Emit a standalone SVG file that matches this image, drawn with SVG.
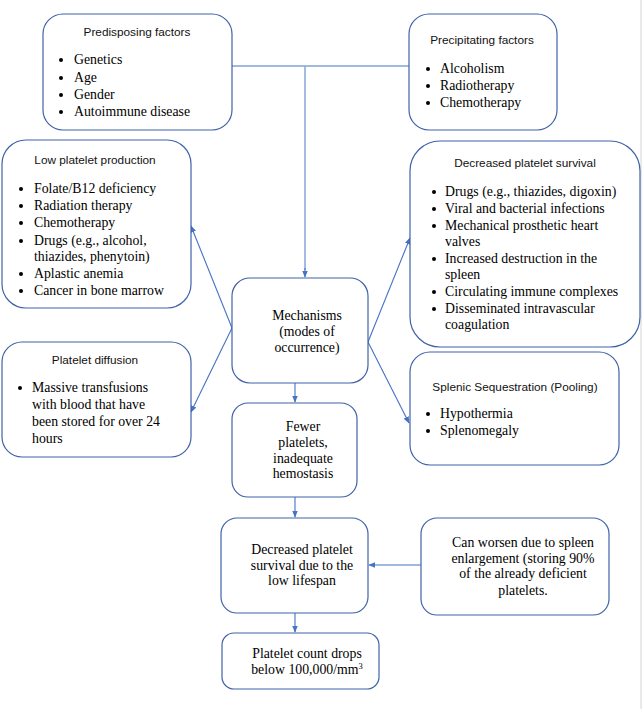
<svg xmlns="http://www.w3.org/2000/svg" width="644" height="709" viewBox="0 0 644 709">
<defs>
<marker id="ah" viewBox="0 0 10 10" refX="9" refY="5" markerWidth="7" markerHeight="7" orient="auto" markerUnits="userSpaceOnUse">
<path d="M0,1 L10,5 L0,9 z" fill="#4472C4"/>
</marker>
<style>
.box{fill:#fff;stroke:#3F62A8;stroke-width:1.2}
.t{font-family:"Liberation Sans",Arial,sans-serif;font-size:11.8px;fill:#111}
.b{font-family:"Liberation Serif","Times New Roman",serif;font-size:13.8px;fill:#000}
.c{text-anchor:middle}
.d{fill:#000}
.con{stroke:#4472C4;stroke-width:1.1;fill:none}
.con2{stroke:#8EAADB;stroke-width:1.6;fill:none}
</style>
</defs>
<rect width="644" height="709" fill="#fff"/>
<line x1="641" y1="0" x2="641" y2="709" stroke="#d4d4d4" stroke-width="1"/>

<g id="connectors">
<line class="con" x1="232" y1="66" x2="410" y2="66"/>
<line class="con2" x1="305" y1="66" x2="305" y2="270"/>
<line class="con" x1="305" y1="268" x2="305" y2="277" marker-end="url(#ah)"/>
<line class="con" x1="232" y1="328" x2="191" y2="226" marker-end="url(#ah)"/>
<line class="con" x1="232" y1="328" x2="191" y2="412" marker-end="url(#ah)"/>
<line class="con" x1="368" y1="342" x2="410" y2="238" marker-end="url(#ah)"/>
<line class="con" x1="368" y1="342" x2="409" y2="423" marker-end="url(#ah)"/>
<line class="con" x1="295" y1="383" x2="295" y2="402" marker-end="url(#ah)"/>
<line class="con" x1="295" y1="497" x2="295" y2="517" marker-end="url(#ah)"/>
<line class="con" x1="421" y1="565" x2="369" y2="565" marker-end="url(#ah)"/>
<line class="con" x1="295" y1="613" x2="295" y2="632" marker-end="url(#ah)"/>
</g>

<g id="predisposing">
<rect class="box" x="43" y="14" width="189" height="116" rx="20"/>
<text class="t c" x="137" y="36">Predisposing factors</text>
<g class="d"><circle cx="61" cy="60" r="2"/><circle cx="61" cy="78" r="2"/><circle cx="61" cy="95" r="2"/><circle cx="61" cy="112" r="2"/></g>
<g class="b">
<text x="74" y="64">Genetics</text>
<text x="74" y="82">Age</text>
<text x="74" y="99">Gender</text>
<text x="74" y="116">Autoimmune disease</text>
</g>
</g>

<g id="precipitating">
<rect class="box" x="409" y="14" width="148" height="116" rx="20"/>
<text class="t c" x="482" y="44">Precipitating factors</text>
<g class="d"><circle cx="428" cy="69" r="2"/><circle cx="428" cy="86" r="2"/><circle cx="428" cy="103" r="2"/></g>
<g class="b">
<text x="440" y="73">Alcoholism</text>
<text x="440" y="90">Radiotherapy</text>
<text x="440" y="107">Chemotherapy</text>
</g>
</g>

<g id="low-production">
<rect class="box" x="2" y="140" width="189" height="168" rx="24"/>
<text class="t c" x="95" y="164">Low platelet production</text>
<g class="d"><circle cx="21" cy="189" r="2"/><circle cx="21" cy="206" r="2"/><circle cx="21" cy="223" r="2"/><circle cx="21" cy="241" r="2"/><circle cx="21" cy="274" r="2"/><circle cx="21" cy="291" r="2"/></g>
<g class="b">
<text x="34" y="193">Folate/B12 deficiency</text>
<text x="34" y="210">Radiation therapy</text>
<text x="34" y="227">Chemotherapy</text>
<text x="34" y="245">Drugs (e.g., alcohol,</text>
<text x="34" y="261">thiazides, phenytoin)</text>
<text x="34" y="278">Aplastic anemia</text>
<text x="34" y="295">Cancer in bone marrow</text>
</g>
</g>

<g id="diffusion">
<rect class="box" x="2" y="342" width="189" height="115" rx="20"/>
<text class="t c" x="95" y="364">Platelet diffusion</text>
<g class="d"><circle cx="20" cy="388" r="2"/></g>
<g class="b">
<text x="32" y="392">Massive transfusions</text>
<text x="32" y="409">with blood that have</text>
<text x="32" y="426">been stored for over 24</text>
<text x="32" y="443">hours</text>
</g>
</g>

<g id="mechanisms">
<rect class="box" x="232" y="278" width="136" height="105" rx="18"/>
<g class="b c">
<text x="307" y="320">Mechanisms</text>
<text x="307" y="336">(modes of</text>
<text x="307" y="352">occurrence)</text>
</g>
</g>

<g id="decreased-survival">
<rect class="box" x="410" y="141" width="230" height="206" rx="30"/>
<text class="t c" x="525" y="167">Decreased platelet survival</text>
<g class="d"><circle cx="434" cy="192" r="2"/><circle cx="434" cy="209" r="2"/><circle cx="434" cy="226" r="2"/><circle cx="434" cy="259" r="2"/><circle cx="434" cy="292" r="2"/><circle cx="434" cy="309" r="2"/></g>
<g class="b">
<text x="445" y="196">Drugs (e.g., thiazides, digoxin)</text>
<text x="445" y="213">Viral and bacterial infections</text>
<text x="445" y="230">Mechanical prosthetic heart</text>
<text x="445" y="246">valves</text>
<text x="445" y="263">Increased destruction in the</text>
<text x="445" y="279">spleen</text>
<text x="445" y="296">Circulating immune complexes</text>
<text x="445" y="313">Disseminated intravascular</text>
<text x="445" y="329">coagulation</text>
</g>
</g>

<g id="splenic">
<rect class="box" x="410" y="352" width="209" height="113" rx="20"/>
<text class="t c" x="515" y="391">Splenic Sequestration (Pooling)</text>
<g class="d"><circle cx="428" cy="414" r="2"/><circle cx="428" cy="431" r="2"/></g>
<g class="b">
<text x="440" y="418">Hypothermia</text>
<text x="440" y="435">Splenomegaly</text>
</g>
</g>

<g id="fewer">
<rect class="box" x="232" y="403" width="125" height="94" rx="16"/>
<g class="b c">
<text x="303" y="431">Fewer</text>
<text x="303" y="447">platelets,</text>
<text x="303" y="463">inadequate</text>
<text x="303" y="478">hemostasis</text>
</g>
</g>

<g id="low-lifespan">
<rect class="box" x="221" y="518" width="147" height="95" rx="16"/>
<g class="b c">
<text x="302" y="554">Decreased platelet</text>
<text x="302" y="570">survival due to the</text>
<text x="302" y="585">low lifespan</text>
</g>
</g>

<g id="worsen">
<rect class="box" x="421" y="518" width="188" height="97" rx="16"/>
<g class="b c">
<text x="523" y="547">Can worsen due to spleen</text>
<text x="523" y="563">enlargement (storing 90%</text>
<text x="523" y="578">of the already deficient</text>
<text x="523" y="595">platelets.</text>
</g>
</g>

<g id="platelet-count">
<rect class="box" x="222" y="633" width="157" height="56" rx="12"/>
<g class="b c">
<text x="307" y="658">Platelet count drops</text>
<text x="307" y="674">below 100,000/mm<tspan font-size="8.5" dy="-5">3</tspan></text>
</g>
</g>
</svg>
